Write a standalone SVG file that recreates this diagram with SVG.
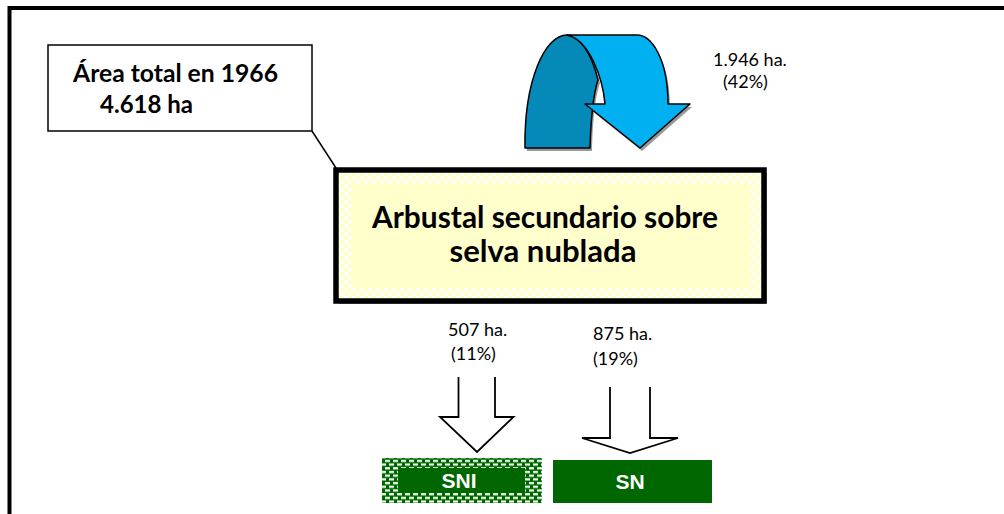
<svg xmlns="http://www.w3.org/2000/svg" width="1004" height="514" viewBox="0 0 1004 514">
<style>
.lbl{font-family:Lato,"Liberation Sans",sans-serif;font-size:18px;fill:#000}
.bold{font-family:Lato,"Liberation Sans",sans-serif;font-weight:bold;fill:#000}
.tag{font-family:"Liberation Sans",Arial,sans-serif;font-weight:bold;font-size:21px;fill:#fff;text-anchor:middle}
.hollow{fill:#fff;stroke:#000;stroke-width:1.8;stroke-linejoin:miter}
</style>
<defs>
<pattern id="yel" width="8" height="8" patternUnits="userSpaceOnUse">
<rect width="8" height="8" fill="#FFFFCC"/>
<rect width="4" height="4" fill="#FFFFF4"/>
<rect x="4" y="4" width="4" height="4" fill="#FFFFF4"/>
</pattern>
<pattern id="grn" width="8" height="7.4" patternUnits="userSpaceOnUse">
<rect width="8" height="7.4" fill="#006600"/>
<rect x="1" y="1" width="5" height="2.2" fill="#F4FFF4"/>
<rect x="5" y="4.7" width="5" height="2.2" fill="#F4FFF4"/>
<rect x="-3" y="4.7" width="5" height="2.2" fill="#F4FFF4"/>
</pattern>
</defs>
<rect width="1004" height="514" fill="#fff"/>
<path d="M9.5 514 V8 H1004" fill="none" stroke="#000" stroke-width="4"/>

<g id="callout">
<rect x="48" y="45" width="264" height="86" fill="#fff" stroke="#000" stroke-width="1.5"/>
<text class="bold" x="73" y="82" font-size="25" textLength="205" lengthAdjust="spacingAndGlyphs">Área total en 1966</text>
<text class="bold" x="100" y="113" font-size="25" textLength="93" lengthAdjust="spacingAndGlyphs">4.618 ha</text>
</g>

<g id="main">
<rect x="339" y="173" width="428" height="131" fill="#9a9a9a"/>
<rect x="336" y="170" width="428" height="131" fill="url(#yel)" stroke="#000" stroke-width="5.5"/>
<rect x="352" y="184" width="398" height="104" fill="#FFFFCC"/>
<text class="bold" x="545" y="228" font-size="30" text-anchor="middle" textLength="346" lengthAdjust="spacingAndGlyphs">Arbustal secundario sobre</text>
<text class="bold" x="543" y="262" font-size="30" text-anchor="middle" textLength="187" lengthAdjust="spacingAndGlyphs">selva nublada</text>
</g>

<g id="sni">
<rect x="382" y="458" width="160" height="45" fill="url(#grn)"/>
<rect x="398" y="468" width="127" height="25" fill="#006600"/>
<text class="tag" x="459" y="488">SNI</text>
</g>

<g id="sn">
<rect x="553" y="460" width="159" height="43" fill="#006600"/>
<text class="tag" x="630" y="489">SN</text>
</g>

<g id="connectors">
<line x1="312" y1="131" x2="336" y2="168" stroke="#000" stroke-width="1.5"/>
<g id="loop">
<g fill="#999" transform="translate(2,3)">
<path d="M525 148 C524 80 545 35 567 35 C580 35 592 55 598 80 C593 95 591 115 590 148 Z"/>
<path d="M567 35 L637 35 C652 35 668 60 668 104 L690 104 L640 148 L585 104 L605 104 C603 80 590 40 567 35 Z"/>
</g>
<path d="M525 148 C524 80 545 35 567 35 C580 35 592 55 598 80 C593 95 591 115 590 148 Z" fill="#0489B9" stroke="#000" stroke-width="1.5" stroke-linejoin="round"/>
<path d="M567 35 L637 35 C652 35 668 60 668 104 L690 104 L640 148 L585 104 L605 104 C603 80 590 40 567 35 Z" fill="#00B0F0" stroke="#000" stroke-width="1.5" stroke-linejoin="round"/>
</g>
<text class="lbl" x="713" y="66">1.946 ha.</text>
<text class="lbl" x="723" y="88">(42%)</text>

<path class="hollow" d="M458.5 377 V417 H440 L477 452 L513.5 417 H495 V377"/>
<text class="lbl" x="448" y="336">507 ha.</text>
<text class="lbl" x="451" y="360">(11%)</text>

<path class="hollow" stroke-width="2.5" d="M610 387 V438 H582 L630 453 L678 438 H650 V387"/>
<text class="lbl" x="593" y="340">875 ha.</text>
<text class="lbl" x="593" y="365">(19%)</text>
</g>
</svg>
